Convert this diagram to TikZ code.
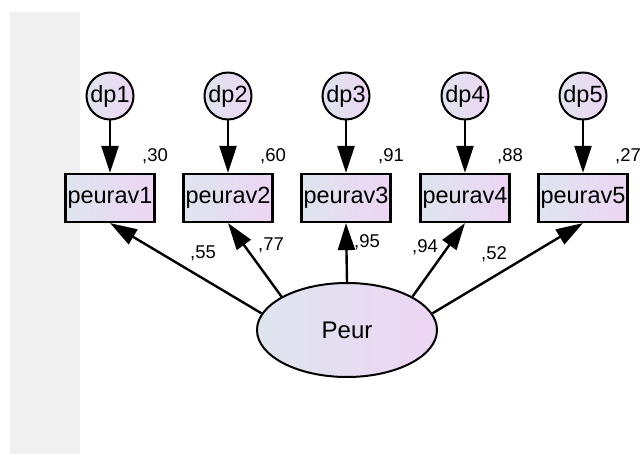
\documentclass[tikz,border=0pt]{standalone}
\usepackage{fontspec}
\setmainfont{Liberation Sans}
\usetikzlibrary{arrows.meta,positioning,shapes.geometric}

\definecolor{amosleft}{RGB}{222,229,238}
\definecolor{amosright}{RGB}{237,213,244}
\definecolor{stripgray}{RGB}{240,240,240}

\tikzset{
	obs/.style={draw, line width=2.2pt, rectangle, minimum width=89pt, minimum height=48pt, inner sep=0pt, left color=amosleft, right color=amosright, font=\fontsize{23.5}{26}\selectfont},
	err/.style={draw, line width=2pt, circle, minimum size=47pt, inner sep=0pt, left color=amosleft, right color=amosright, font=\fontsize{23.5}{26}\selectfont},
	lat/.style={draw, line width=2pt, ellipse, minimum width=180pt, minimum height=94pt, left color=amosleft, right color=amosright, font=\fontsize{24}{28}\selectfont},
	val/.style={inner sep=0pt, font=\fontsize{18.5}{20}\selectfont},
}

\begin{document}
\begin{tikzpicture}[x=1pt, y=-1pt, >={Triangle[length=27pt,width=17pt]}, line width=2.4pt]

	\useasboundingbox (0,0) rectangle (640,454);
	\fill[stripgray] (10,12) rectangle (80,454);

	\node[lat] (Peur) at (347,330) {Peur};

	\node[obs] (peurav1) at (110,198) {peurav1};
	\node[obs] (peurav2) at (228,198) {peurav2};
	\node[obs] (peurav3) at (346,198) {peurav3};
	\node[obs] (peurav4) at (465,198) {peurav4};
	\node[obs] (peurav5) at (583,198) {peurav5};

	\node[err] (dp1) at (110,96) {dp1};
	\node[err] (dp2) at (228,96) {dp2};
	\node[err] (dp3) at (346,96) {dp3};
	\node[err] (dp4) at (465,96) {dp4};
	\node[err] (dp5) at (583,96) {dp5};

	% squared multiple correlations
	\node[val] (r1) at (155,156) {,30};
	\node[val] (r2) at (273,156) {,60};
	\node[val] (r3) at (391,156) {,91};
	\node[val] (r4) at (510,156) {,88};
	\node[val] (r5) at (628,156) {,27};

	% loadings
	\node[val] (l1) at (203,253) {,55};
	\node[val] (l2) at (271,245) {,77};
	\node[val] (l3) at (367,242) {,95};
	\node[val] (l4) at (425,247) {,94};
	\node[val] (l5) at (494,254) {,52};

	\draw[->] (dp1) -- (peurav1);
	\draw[->] (dp2) -- (peurav2);
	\draw[->] (dp3) -- (peurav3);
	\draw[->] (dp4) -- (peurav4);
	\draw[->] (dp5) -- (peurav5);

	\draw[->] (Peur.169) -- (peurav1.south);
	\draw[->] (Peur.153) -- (peurav2.south);
	\draw[->] (Peur.north) -- (peurav3.south);
	\draw[->] (Peur.27) -- (peurav4.south);
	\draw[->] (Peur.11) -- (peurav5.south);

\end{tikzpicture}
\end{document}
